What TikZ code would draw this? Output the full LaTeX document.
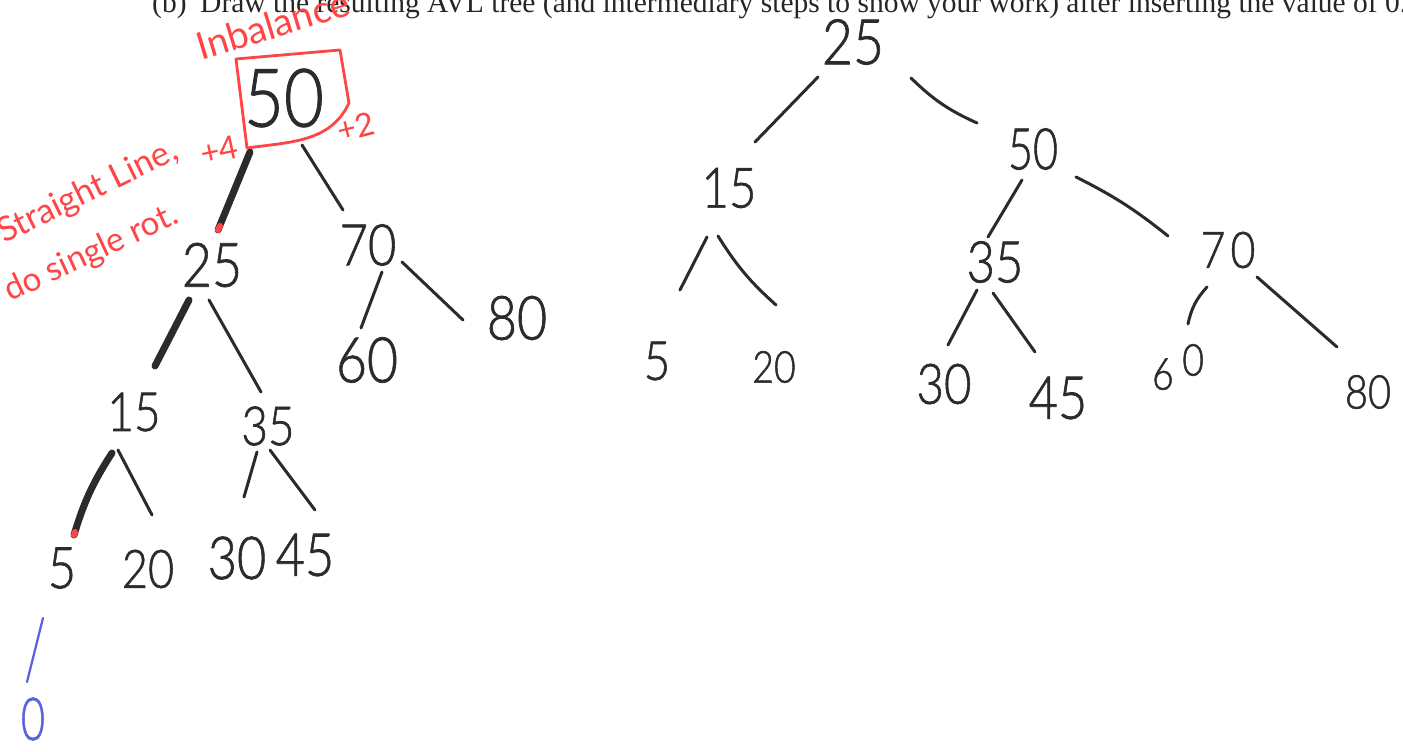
\documentclass[tikz,border=0pt]{standalone}
\usepackage{fontspec}
\usetikzlibrary{calc}
\setmainfont{Liberation Serif}
\newfontfamily\hand{Lato Light}[FakeBold=1.2]
\newfontfamily\marker{Lato}
\definecolor{ink}{HTML}{2B2B2B}
\definecolor{pen}{HTML}{FF4545}
\definecolor{bluepen}{HTML}{5A63DC}
\newcommand\hw[2][0.85]{\scalebox{#1}[1]{#2}}
% size factor between the nominal sizes below and the hand font
\newcommand\handsize[1]{\fontsize{\fpeval{#1*0.9}pt}{\fpeval{#1*0.9}pt}\selectfont}

\begin{document}
\begin{tikzpicture}[x=1pt,y=-1pt,
  num/.style={inner sep=0pt, text=ink, font=\hand\handsize{#1}},
  note/.style={inner sep=0pt, anchor=base west, text=pen, font=\marker\handsize{#1}},
  edge/.style={draw=ink, line width=3pt, line cap=round},
  heavy/.style={draw=ink, line width=7pt, line cap=round},
  tip/.style={draw=pen, line width=6pt, line cap=round},
  redbox/.style={draw=pen, line width=2.8pt, line join=round, line cap=round},
  insert/.style={draw=bluepen, line width=2.2pt, line cap=round},
  header/.style={inner sep=0pt, anchor=base west, text=black!85, font=\fontsize{29.5pt}{29.5pt}\selectfont}
]
\useasboundingbox (0,0) rectangle (1403,752);
\fill[white] (0,0) rectangle (1403,752);

% ---- question line (runs off the top edge) ----
\node[header] (qlabel) at (152,13) {(b)};
\node[header] (qtext) at (200,13) {Draw the resulting AVL tree (and intermediary steps to show your work) after inserting the value of 0.};

% ---- left tree: after inserting 0 ----
\node[num=90] (L50) at (284,98) {\hw{50}};
\node[num=68] (L25) at (212,265) {\hw{25}};
\node[num=64] (L70) at (368,245) {\hw{70}};
\node[num=70] (L60) at (367,360) {\hw{60}};
\node[num=68] (L80) at (517,318) {\hw{80}};
\node[num=60] (L15) at (134,412) {\hw{15}};
\node[num=60] (L35) at (268,426) {\hw{35}};
\node[num=64] (L5)  at (62,568)  {\hw{5}};
\node[num=59] (L20) at (148,569) {\hw{20}};
\node[num=66] (L30) at (237,558) {\hw{30}};
\node[num=66] (L45) at (305,555) {\hw{45}};
\node[num=66, text=bluepen] (L0) at (33,719) {\hw[0.7]{0}};

\draw[heavy] ($(L50)+(-34,54)$) -- ($(L25)+(6,-35)$);
\draw[tip]   ($(L25)+(8,-39)$) -- ($(L25)+(6,-35)$);
\draw[edge]  ($(L50)+(18,47)$) -- ($(L70)+(-25,-35)$);
\draw[edge]  ($(L70)+(14,27)$) -- ($(L60)+(-6,-32)$);
\draw[edge]  ($(L70)+(34,17)$) -- ($(L80)+(-54,2)$);
\draw[heavy] ($(L25)+(-23,35)$) -- ($(L15)+(21,-46)$);
\draw[edge]  ($(L25)+(-3,35)$) -- ($(L35)+(-7,-34)$);
\draw[heavy] ($(L15)+(-22,41)$) to[bend right=8] ($(L5)+(12,-33)$);
\draw[tip]   ($(L5)+(13,-36)$) -- ($(L5)+(12,-33)$);
\draw[edge]  ($(L15)+(-16,38)$) -- ($(L20)+(4,-54)$);
\draw[edge]  ($(L35)+(-11,26)$) -- ($(L30)+(7,-61)$);
\draw[edge]  ($(L35)+(2,24)$) -- ($(L45)+(10,-45)$);
\draw[insert] ($(L5)+(-19,50)$) -- ($(L0)+(-6,-37)$);

% red markings round the unbalanced root
\draw[redbox] ($(L50)+(-48,-39)$) -- ($(L50)+(56,-48)$) -- ($(L50)+(65,5)$)
   to[out=-115,in=8] ($(L50)+(-37,50)$) -- cycle;
\node[note=42, rotate=17] (inb) at (201,61) {Inbalance};
\node[note=36, rotate=12, anchor=center] (hl) at (219,150) {+4};
\node[note=36, rotate=14, anchor=center] (hr) at (356,127) {+2};
\node[note=38, rotate=26] (why1) at (4,244) {Straight Line,};
\node[note=37, rotate=25] (why2) at (10,302) {do single rot.};

% ---- right tree: after the single rotation ----
\node[num=70] (R25) at (853,42)  {\hw{25}};
\node[num=62] (R15) at (729,188) {\hw{15}};
\node[num=64] (R50) at (1033,149) {\hw[0.75]{50}};
\node[num=60] (R5)  at (657,361) {\hw{5}};
\node[num=49] (R20) at (774,367) {\hw{20}};
\node[num=64] (R35) at (995,262) {\hw{35}};
\node[num=56] (R70) at (1228,250) {\hw{7\hspace{6pt}0}};
\node[num=62] (R30) at (944,384) {\hw{30}};
\node[num=66] (R45) at (1058,398) {\hw{45}};
\node[num=49] (R60) at (1178,367) {\hw{6\hspace{10pt}\raisebox{14pt}{0}}};
\node[num=52] (R80) at (1368,392) {\hw{80}};

\draw[edge] ($(R25)+(-35,35)$) -- ($(R15)+(26,-46)$);
\draw[edge] ($(R25)+(58,36)$) to[bend right=10] ($(R50)+(-56,-26)$);
\draw[edge] ($(R15)+(-22,49)$) -- ($(R5)+(23,-71)$);
\draw[edge] ($(R15)+(-11,48)$) to[bend right=8] ($(R20)+(2,-62)$);
\draw[edge] ($(R50)+(-11,31)$) -- ($(R35)+(-7,-25)$);
\draw[edge] ($(R50)+(43,28)$) to[bend left=6] ($(R70)+(-60,-14)$);
\draw[edge] ($(R35)+(-18,28)$) -- ($(R30)+(4,-39)$);
\draw[edge] ($(R35)+(-2,31)$) -- ($(R45)+(-23,-46)$);
\draw[edge] ($(R70)+(-21,37)$) to[bend right=15] ($(R60)+(10,-43)$);
\draw[edge] ($(R70)+(29,27)$) -- ($(R80)+(-31,-45)$);
\end{tikzpicture}
\end{document}
